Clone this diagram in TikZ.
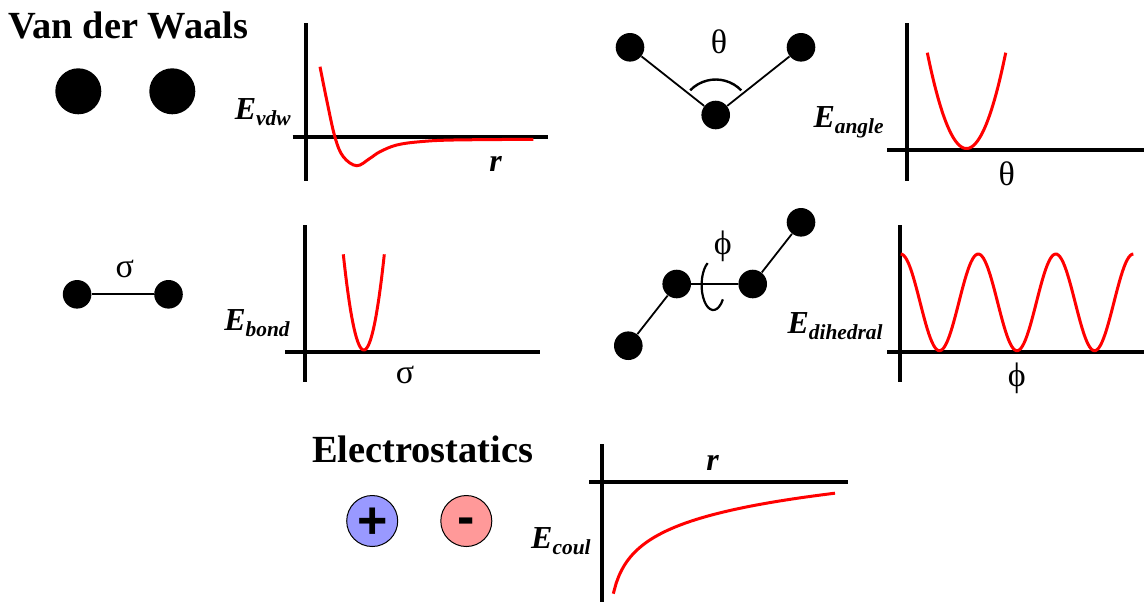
\documentclass[tikz,border=0pt]{standalone}
\usepackage{fontspec}
\setmainfont{Liberation Serif}
\newfontfamily\signfont{Liberation Sans}
\usetikzlibrary{positioning,calc}

\definecolor{posblue}{HTML}{9999FF}
\definecolor{negred}{HTML}{FF9999}

\tikzset{
  atom/.style={circle, fill=black, inner sep=0pt, minimum size=14.3pt},
  bigatom/.style={atom, minimum size=23pt},
  bondline/.style={line width=0.9pt},
  axisline/.style={line width=2pt},
  curve/.style={red, line width=1.5pt},
  title/.style={anchor=base west, inner sep=0pt, font=\fontsize{19.2}{22}\selectfont\bfseries},
  elabel/.style={anchor=base east, inner sep=0pt, font=\fontsize{16}{18}\selectfont\bfseries\itshape},
  greek/.style={inner sep=0pt, font=\fontsize{17}{20}\selectfont},
  charge/.style={circle, draw=black, line width=0.5pt, inner sep=0pt, minimum size=25.5pt,
    text depth=0pt, font=\fontsize{26}{28}\selectfont\signfont\bfseries},
}
\newcommand{\Esub}[1]{E\raisebox{-3pt}{\fontsize{10.7}{12}\selectfont #1}}

\begin{document}
\begin{tikzpicture}[x=0.5pt, y=-0.5pt]
  \useasboundingbox (0,0) rectangle (1144,602);

  % --- Van der Waals ---
  \node[title] (vdwtitle) at (8,38.3) {Van der Waals};
  \node[bigatom] (vdwA) at (78.3,91.3) {};
  \node[bigatom] (vdwB) at (172.3,91.3) {};
  \draw[axisline] (306,23.3) -- (306,181);
  \draw[axisline] (292.7,137.3) -- (548.3,137.3);
  \draw[curve] plot[smooth, tension=0.6] coordinates {(320,66.7) (326.7,100) (335,137.3)
    (343.3,156.7) (356.7,165.7) (370,158.3) (380,151.7) (396.7,145) (420,141.7) (453,140) (533.3,139.3)};
  \node[elabel] (Evdw) at (291,119) {\Esub{vdw}};
  \node[elabel, anchor=base] (rvdw) at (495.5,171.7) {r};

  % --- Angle ---
  \node[atom] (angA) at (630,47.3) {};
  \node[atom] (angB) at (715.7,115) {};
  \node[atom] (angC) at (801,47.3) {};
  \draw[bondline] (angA) -- (angB);
  \draw[bondline] (angB) -- (angC);
  \draw[line width=1.2pt] (angB.center) ++(-44:35.5) arc[start angle=-44, end angle=-136, radius=35.5];
  \node[greek] (thetaA) at (719,41.7) {θ};
  \draw[axisline] (906.7,23.3) -- (906.7,181);
  \draw[axisline] (887.3,150) -- (1144,150);
  \draw[curve] plot[domain=927.3:1005.7, samples=60] (\x, {148.5 - 95.8*((\x-966.5)/39.2)^2});
  \node[elabel] (Eangle) at (884,127.7) {\Esub{angle}};
  \node[greek] (thetaB) at (1006.7,173.3) {θ};

  % --- Bond ---
  \node[atom] (bndA) at (77.1,294.3) {};
  \node[atom] (bndB) at (168.5,294.3) {};
  \draw[bondline] (bndA) -- (bndB);
  \node[greek] (sigmaA) at (124.7,269) {σ};
  \draw[axisline] (305.3,225) -- (305.3,381.7);
  \draw[axisline] (285,351.7) -- (540,351.7);
  \draw[curve] plot[domain=343.3:384.3, samples=50] (\x, {350 - 95.7*((\x-363.8)/20.5)^2});
  \node[elabel] (Ebond) at (290,330) {\Esub{bond}};
  \node[greek] (sigmaB) at (405,375) {σ};

  % --- Dihedral ---
  \node[atom] (dihA) at (628.3,345.7) {};
  \node[atom] (dihB) at (676.7,284) {};
  \node[atom] (dihC) at (752.7,284) {};
  \node[atom] (dihD) at (801,222.3) {};
  \draw[bondline] (dihA) -- (dihB);
  \draw[bondline] (dihB) -- (dihC);
  \draw[bondline] (dihC) -- (dihD);
  \draw[line width=1.1pt] (713.3,285) ++(-119:11.7 and 25)
      arc[start angle=-119, end angle=-325, x radius=11.7, y radius=25];
  \node[greek] (phiA) at (722.7,246.7) {ϕ};
  \draw[axisline] (900,225) -- (900,381.7);
  \draw[axisline] (887.3,351.7) -- (1144,351.7);
  \draw[curve] plot[domain=900.7:1133.3, samples=150] (\x, {302.35 - 48.35*cos(4.64336*(\x-900.7))});
  \node[elabel] (Edih) at (883,333.3) {\Esub{dihedral}};
  \node[greek] (phiB) at (1016.7,378.3) {ϕ};

  % --- Electrostatics ---
  \node[title] (esttitle) at (311.7,462.7) {Electrostatics};
  \node[charge, fill=posblue, text height=17.2pt] (qplus) at (372.2,521) {+};
  \node[charge, fill=negred, text height=13.8pt] (qminus) at (466.3,521) {-};
  \draw[axisline] (601.7,444) -- (601.7,602);
  \draw[axisline] (589.3,481.7) -- (848,481.7);
  \draw[curve] plot[domain=613.3:835, samples=80] (\x, {645.2 - 28*ln(\x-607)});
  \node[elabel] (Ecoul) at (591,548.3) {\Esub{coul}};
  \node[elabel, anchor=base] (rcoul) at (712.5,470) {r};
\end{tikzpicture}
\end{document}
